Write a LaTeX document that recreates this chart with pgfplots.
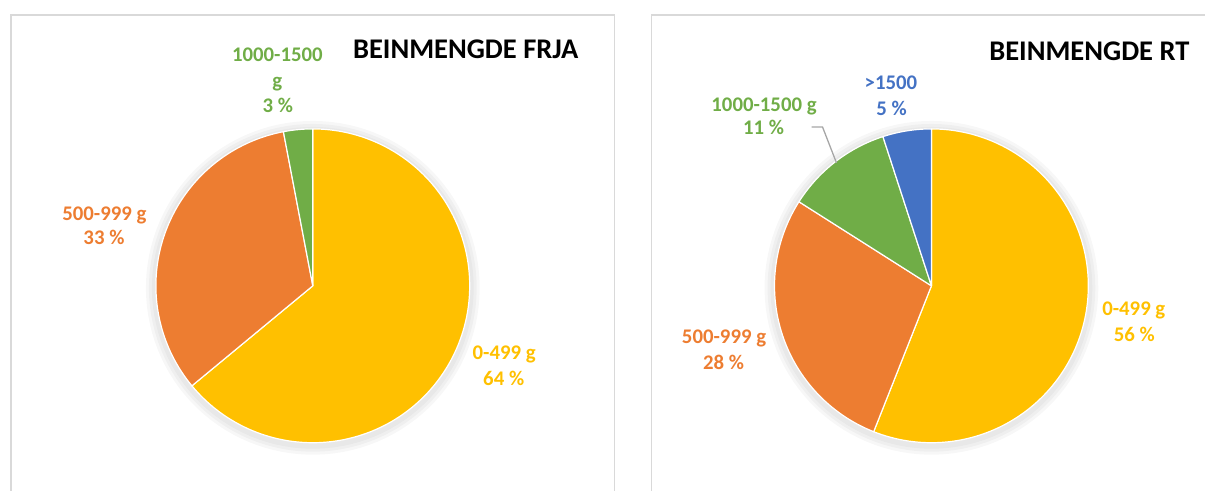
\documentclass[border=0pt]{standalone}
\usepackage{pgfplots}
\pgfplotsset{compat=1.18}
\usepackage{fontspec}
\setmainfont{Carlito}
\definecolor{cY}{HTML}{FFC000}
\definecolor{cO}{HTML}{ED7D31}
\definecolor{cG}{HTML}{70AD47}
\definecolor{cB}{HTML}{4472C4}
\definecolor{frame}{HTML}{D9D9D9}
\newcommand{\lab}[4]{\node[anchor=base,inner sep=0pt,text=#3,font=\bfseries\fontsize{20.8}{25}\selectfont] at (#1,#2) {#4};}
\begin{document}
\begin{tikzpicture}
\begin{axis}[scale only axis, width=1206pt, height=491pt,
  xmin=0, xmax=1206, ymin=0, ymax=491, y dir=reverse,
  hide axis, clip=false]
\path (0,0) rectangle (1206,491);
% panel frames
\draw[frame, line width=1.5pt] (11,491) -- (11,15) -- (615,15) -- (615,491);
\draw[frame, line width=1.5pt] (652,491) -- (652,15) -- (1206,15);
% soft shadows
\foreach \cx in {313,932}{
  \foreach \r in {10,7,4}{
    \edef\tmp{\noexpand\addplot[fill=black, fill opacity=0.03, draw=none, domain=0:100, samples=120]
      ({\cx+(157+\r)*sin(3.6*x)}, {288-(157+\r)*cos(3.6*x)}) -- cycle;}
    \tmp
  }
}
% ---- left pie: BEINMENGDE FRJA (percent) ----
% 0-499 g: 64, 500-999 g: 33, 1000-1500 g: 3
\addplot[fill=cY, draw=white, line width=1.2pt, line join=round, domain=0:64, samples=150]
  ({313+157*sin(3.6*x)}, {286-157*cos(3.6*x)}) -- (313,286) -- cycle;
\addplot[fill=cO, draw=white, line width=1.2pt, line join=round, domain=64:97, samples=100]
  ({313+157*sin(3.6*x)}, {286-157*cos(3.6*x)}) -- (313,286) -- cycle;
\addplot[fill=cG, draw=white, line width=1.2pt, line join=round, domain=97:100, samples=30]
  ({313+157*sin(3.6*x)}, {286-157*cos(3.6*x)}) -- (313,286) -- cycle;
% ---- right pie: BEINMENGDE RT (percent) ----
% 0-499 g: 56, 500-999 g: 28, 1000-1500 g: 11, >1500: 5
\addplot[fill=cY, draw=white, line width=1.2pt, line join=round, domain=0:56, samples=150]
  ({932+157*sin(3.6*x)}, {286-157*cos(3.6*x)}) -- (932,286) -- cycle;
\addplot[fill=cO, draw=white, line width=1.2pt, line join=round, domain=56:84, samples=100]
  ({932+157*sin(3.6*x)}, {286-157*cos(3.6*x)}) -- (932,286) -- cycle;
\addplot[fill=cG, draw=white, line width=1.2pt, line join=round, domain=84:95, samples=50]
  ({932+157*sin(3.6*x)}, {286-157*cos(3.6*x)}) -- (932,286) -- cycle;
\addplot[fill=cB, draw=white, line width=1.2pt, line join=round, domain=95:100, samples=30]
  ({932+157*sin(3.6*x)}, {286-157*cos(3.6*x)}) -- (932,286) -- cycle;
% leader line
\draw[color=black!35, line width=1.3pt] (812,127) -- (823,127) -- (837,163);
% titles
\node[anchor=base,inner sep=0pt,font=\bfseries\fontsize{28.5}{30}\selectfont] at (466,59) {BEINMENGDE FRJA};
\node[anchor=base,inner sep=0pt,font=\bfseries\fontsize{28.5}{30}\selectfont] at (1090,61) {BEINMENGDE RT};
% labels left
\lab{277.5}{62}{cG}{1000-1500}
\lab{277.5}{88}{cG}{g}
\lab{278}{113}{cG}{3 \%}
\lab{104.5}{221}{cO}{500-999 g}
\lab{104}{245}{cO}{33 \%}
\lab{504.5}{360}{cY}{0-499 g}
\lab{504}{386}{cY}{64 \%}
% labels right
\lab{891.5}{90}{cB}{>1500}
\lab{892}{116}{cB}{5 \%}
\lab{764.5}{112}{cG}{1000-1500 g}
\lab{764}{135}{cG}{11 \%}
\lab{724.5}{344}{cO}{500-999 g}
\lab{724}{370}{cO}{28 \%}
\lab{1134.5}{316}{cY}{0-499 g}
\lab{1135}{342}{cY}{56 \%}
\end{axis}
\end{tikzpicture}
\end{document}
